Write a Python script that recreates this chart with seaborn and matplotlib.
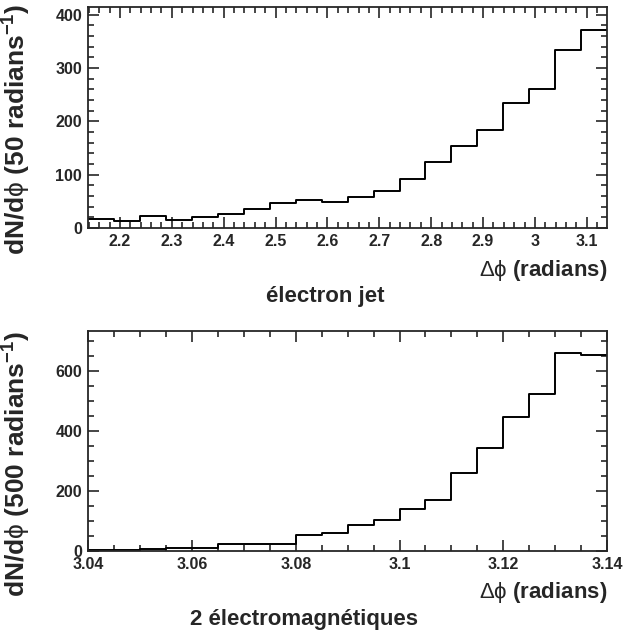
import numpy as np
import pandas as pd
import matplotlib
matplotlib.use("Agg")
import matplotlib.pyplot as plt
import seaborn as sns
from matplotlib.ticker import MultipleLocator, FormatStrFormatter

# histogram contents (20 bins per panel)
top_lo, top_width = 2.139, 0.05
top_counts = [17, 13, 23, 15, 21, 27, 36, 46, 52, 49,
              59, 69, 92, 124, 154, 183, 235, 260, 333, 372]
bot_lo, bot_width = 3.04, 0.005
bot_counts = [4, 5, 6, 9, 11, 22, 25, 25, 53, 61,
              87, 103, 139, 170, 261, 342, 448, 522, 660, 654]

top_ylabel = r"dN/d$\mathrm{\phi}$ (50 radians$^{\mathbf{-1}}$)"
bot_ylabel = r"dN/d$\mathrm{\phi}$ (500 radians$^{\mathbf{-1}}$)"
xlabel = r"$\mathrm{\Delta\phi}$ $\mathbf{(radians)}$"
top_title = "électron jet"
bot_title = "2 électromagnétiques"

sns.set_style("ticks")
plt.rcParams["font.family"] = ["Liberation Sans", "DejaVu Sans"]
plt.rcParams["mathtext.fontset"] = "custom"
plt.rcParams["mathtext.rm"] = "Liberation Sans"
plt.rcParams["mathtext.it"] = "Liberation Sans:italic"
plt.rcParams["mathtext.bf"] = "Liberation Sans:bold"

fig = plt.figure(figsize=(6.23, 6.39), dpi=100)
ax1 = fig.add_axes([0.1417, 0.6432, 0.8326, 0.3463])
ax2 = fig.add_axes([0.1417, 0.1377, 0.8326, 0.3443])


def draw(ax, lo, width, counts, ylim, xmaj, xmin, ymaj, ymin, ylab, title, ty, tx):
    n = len(counts)
    hi = lo + width * n
    centers = lo + width * (np.arange(n) + 0.5)
    df = pd.DataFrame({"dphi": centers, "count": counts})
    sns.histplot(data=df, x="dphi", weights="count", bins=n, binrange=(lo, hi),
                 element="step", fill=False, color="black", linewidth=1.4, ax=ax)
    ax.set_xlim(lo, hi)
    ax.set_ylim(0, ylim)
    ax.xaxis.set_major_locator(MultipleLocator(xmaj))
    ax.xaxis.set_minor_locator(MultipleLocator(xmin))
    ax.yaxis.set_major_locator(MultipleLocator(ymaj))
    ax.yaxis.set_minor_locator(MultipleLocator(ymin))
    ax.xaxis.set_major_formatter(FormatStrFormatter("%g"))
    ax.tick_params(which="both", direction="in", top=True, right=True, width=1.2)
    ax.tick_params(which="major", length=8)
    ax.tick_params(which="minor", length=4)
    ax.tick_params(axis="x", pad=4)
    ax.tick_params(axis="y", pad=4.5)
    for lab in ax.get_xticklabels() + ax.get_yticklabels():
        lab.set_fontweight("bold")
        lab.set_fontsize(11.5)
    for sp in ax.spines.values():
        sp.set_linewidth(1.3)
    ax.set_ylabel(ylab, fontsize=19, fontweight="bold", loc="top")
    ax.yaxis.set_label_coords(-0.106, ty)
    ax.set_xlabel(xlabel, fontsize=16, fontweight="bold", loc="right")
    ax.xaxis.set_label_coords(1.0, -0.19)
    ax.xaxis.label.set_va("center")
    ax.text(tx, -0.31, title, transform=ax.transAxes, ha="center",
            va="center", fontsize=16, fontweight="bold")


draw(ax1, top_lo, top_width, top_counts, 415, 0.1, 0.02, 100, 20,
     top_ylabel, top_title, 1.015, 0.456)
draw(ax2, bot_lo, bot_width, bot_counts, 733, 0.02, 0.005, 200, 50,
     bot_ylabel, bot_title, 1.0, 0.415)

fig.savefig("out.png", dpi=100)
